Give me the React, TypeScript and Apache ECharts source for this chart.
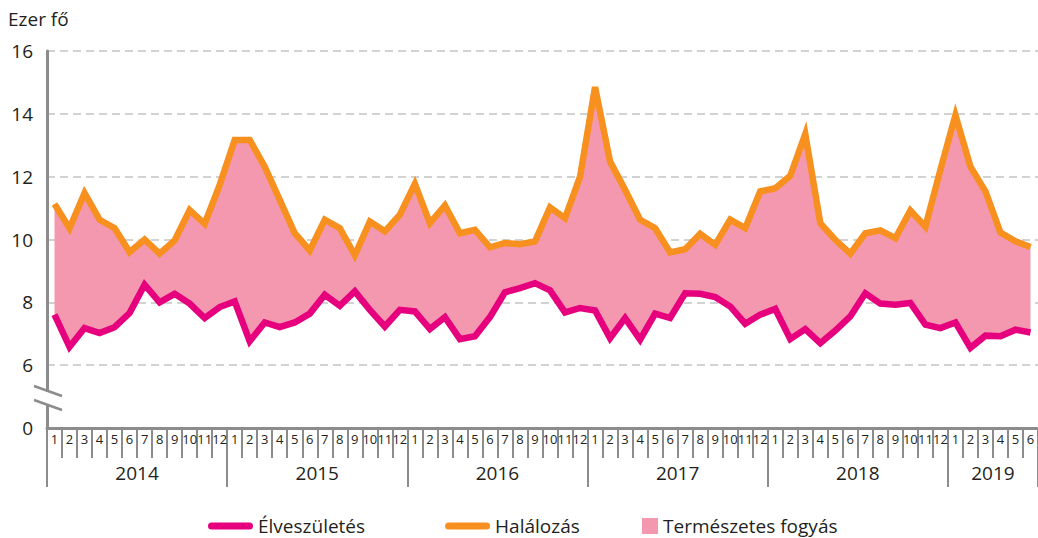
import React, { useEffect, useRef } from "react";
import * as echarts from "echarts";

// ---- Data ----
const years = ["2014", "2015", "2016", "2017", "2018", "2019"];
const monthsPerYear = [12, 12, 12, 12, 12, 6];

// Élveszületés (ezer fő)
const births = [
  7.61, 6.58, 7.18, 7.02, 7.21, 7.66, 8.56, 8.0, 8.27, 7.96, 7.5, 7.85,
  8.03, 6.76, 7.36, 7.21, 7.36, 7.64, 8.24, 7.89, 8.35, 7.76, 7.23, 7.76,
  7.71, 7.15, 7.53, 6.83, 6.92, 7.53, 8.32, 8.45, 8.61, 8.38, 7.68, 7.82,
  7.74, 6.86, 7.5, 6.81, 7.64, 7.5, 8.29, 8.27, 8.17, 7.87, 7.32, 7.61,
  7.79, 6.83, 7.15, 6.7, 7.1, 7.55, 8.29, 7.96, 7.92, 7.98, 7.29, 7.18,
  7.36, 6.55, 6.94, 6.92, 7.13, 7.04,
];

// Halálozás (ezer fő)
const deaths = [
  11.13, 10.36, 11.48, 10.63, 10.36, 9.6, 10.0, 9.55, 9.97, 10.94, 10.5, 11.74,
  13.17, 13.17, 12.32, 11.26, 10.2, 9.65, 10.63, 10.36, 9.5, 10.57, 10.26, 10.79,
  11.77, 10.52, 11.08, 10.2, 10.31, 9.75, 9.89, 9.85, 9.94, 11.02, 10.68, 12.0,
  14.85, 12.48, 11.58, 10.63, 10.36, 9.59, 9.69, 10.18, 9.83, 10.63, 10.36, 11.53,
  11.63, 12.03, 13.36, 10.52, 9.99, 9.55, 10.2, 10.29, 10.04, 10.92, 10.41, 12.22,
  13.96, 12.32, 11.53, 10.22, 9.94, 9.76,
];

// y-axis tick labels (axis is broken between 0 and 6)
const yTickLabels = ["0", "6", "8", "10", "12", "14", "16"];
const BREAK_SHIFT = 4; // values >= 6 are drawn shifted down by 4 units

const seriesNames = ["Élveszületés", "Halálozás", "Természetes fogyás"];

// ---- Derived category lists ----
const monthLabels: string[] = [];
const yearLabels: string[] = [];
const yearStart: number[] = [];
const yearMid = new Set<number>();
years.forEach((y, yi) => {
  const start = monthLabels.length;
  yearStart.push(start);
  for (let m = 1; m <= monthsPerYear[yi]; m++) {
    monthLabels.push(String(m));
    yearLabels.push(y);
  }
  yearMid.add(start + monthsPerYear[yi] / 2 - 1);
});
const yearStartSet = new Set(yearStart);

const FONT = "Open Sans";
const TEXT = "#231f20";
const AXIS = "#8c8c8c";
const MAGENTA = "#e6007e";
const ORANGE = "#f7901e";
const PINK = "#f398af";

export default function App() {
  const ref = useRef<HTMLDivElement>(null);

  useEffect(() => {
    if (!ref.current) return;
    const chart = echarts.init(ref.current, null, { renderer: "svg" });

    const b = births.map((v) => +(v - BREAK_SHIFT).toFixed(3));
    const d = deaths.map((v) => +(v - BREAK_SHIFT).toFixed(3));
    const diff = deaths.map((v, i) => +(v - births[i]).toFixed(3));

    const linePath =
      "path://M3.5,0 L41.5,0 A3.5,3.5 0 0 1 41.5,7 L3.5,7 A3.5,3.5 0 0 1 3.5,0 Z";

    const legendText = { fontSize: 19, lineHeight: 20, color: TEXT, fontFamily: FONT };

    chart.setOption({
      animation: false,
      textStyle: { fontFamily: FONT, color: TEXT },
      grid: { left: 47, top: 51, width: 996, height: 377, containLabel: false },
      xAxis: [
        {
          type: "category",
          data: monthLabels,
          boundaryGap: true,
          position: "bottom",
          axisLine: { show: true, lineStyle: { color: AXIS, width: 3 } },
          axisTick: {
            show: true,
            interval: 0,
            length: 30,
            lineStyle: { color: AXIS, width: 2 },
          },
          axisLabel: {
            interval: 0,
            fontSize: 13,
            color: TEXT,
            fontFamily: FONT,
            margin: 4,
          },
          splitLine: { show: false },
          z: 5,
        },
        {
          type: "category",
          data: yearLabels,
          boundaryGap: true,
          position: "bottom",
          axisLine: { show: false },
          axisTick: {
            show: true,
            interval: (i: number) => yearStartSet.has(i),
            length: 59,
            lineStyle: { color: AXIS, width: 2 },
          },
          axisLabel: {
            interval: (i: number) => yearMid.has(i),
            fontSize: 19,
            color: TEXT,
            fontFamily: FONT,
            margin: 35,
            padding: [0, 0, 0, 15],
          },
          splitLine: { show: false },
        },
      ],
      yAxis: {
        type: "value",
        min: 0,
        max: 12,
        interval: 2,
        axisLine: { show: true, lineStyle: { color: AXIS, width: 3 } },
        axisTick: { show: false },
        axisLabel: {
          formatter: (v: number) => yTickLabels[Math.round(v / 2)],
          fontSize: 19,
          color: TEXT,
          fontFamily: FONT,
          margin: 14,
        },
        splitLine: {
          show: true,
          lineStyle: { color: "#c4c4c4", width: 1.5, type: [8, 5] },
        },
      },
      legend: [
        {
          data: [seriesNames[0], seriesNames[1]],
          left: 208,
          top: 516,
          padding: 0,
          itemWidth: 45,
          itemHeight: 7,
          itemGap: 80,
          icon: linePath,
          textStyle: legendText,
          selectedMode: false,
        },
        {
          data: [seriesNames[2]],
          left: 642,
          top: 516,
          padding: 0,
          itemWidth: 16,
          itemHeight: 16,
          icon: "rect",
          textStyle: legendText,
          selectedMode: false,
        },
      ],
      graphic: [
        {
          type: "text",
          left: 8,
          top: 9,
          style: { text: "Ezer fő", font: `19px "${FONT}"`, fill: TEXT },
        },
        {
          type: "rect",
          shape: { x: 43, y: 392, width: 9, height: 12 },
          style: { fill: "#ffffff" },
          z: 100,
        },
        {
          type: "line",
          shape: { x1: 34, y1: 386, x2: 62, y2: 396 },
          style: { stroke: AXIS, lineWidth: 2.5 },
          z: 101,
        },
        {
          type: "line",
          shape: { x1: 34, y1: 400, x2: 62, y2: 410 },
          style: { stroke: AXIS, lineWidth: 2.5 },
          z: 101,
        },
      ],
      series: [
        {
          name: "base",
          type: "line",
          stack: "gap",
          data: b,
          symbol: "none",
          lineStyle: { width: 0, opacity: 0 },
          silent: true,
          z: 1,
        },
        {
          name: seriesNames[2],
          type: "line",
          stack: "gap",
          data: diff,
          symbol: "none",
          lineStyle: { width: 0, opacity: 0 },
          itemStyle: { color: PINK },
          areaStyle: { color: PINK, opacity: 1 },
          z: 1,
        },
        {
          name: seriesNames[0],
          type: "line",
          data: b,
          symbol: "none",
          itemStyle: { color: MAGENTA },
          lineStyle: { color: MAGENTA, width: 6.5, join: "miter" },
          z: 3,
        },
        {
          name: seriesNames[1],
          type: "line",
          data: d,
          symbol: "none",
          itemStyle: { color: ORANGE },
          lineStyle: { color: ORANGE, width: 6.5, join: "miter" },
          z: 3,
        },
      ],
    });

    return () => chart.dispose();
  }, []);

  return (
    <div
      ref={ref}
      style={{ position: "absolute", left: 0, top: 0, width: 1038, height: 538 }}
    />
  );
}
